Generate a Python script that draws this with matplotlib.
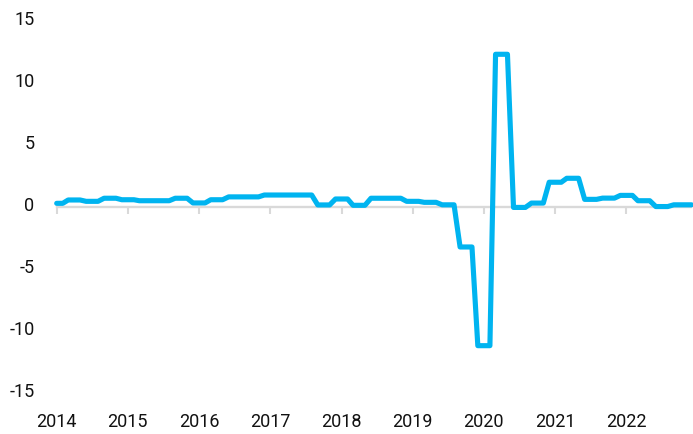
import matplotlib
matplotlib.use("Agg")
import matplotlib.pyplot as plt
import matplotlib.dates as mdates
from matplotlib.transforms import ScaledTranslation
import pandas as pd

plt.rcParams['font.family'] = ['Liberation Sans Narrow', 'DejaVu Sans Condensed', 'Roboto', 'DejaVu Sans']

# monthly values, one row per year (2014 .. 2022)
v2014 = [0.28, 0.28, 0.55, 0.55, 0.55, 0.44, 0.44, 0.44, 0.69, 0.69, 0.69, 0.57]
v2015 = [0.57, 0.57, 0.49, 0.49, 0.49, 0.49, 0.49, 0.49, 0.69, 0.69, 0.69, 0.31]
v2016 = [0.31, 0.31, 0.57, 0.57, 0.57, 0.80, 0.80, 0.80, 0.80, 0.80, 0.80, 0.95]
v2017 = [0.95, 0.95, 0.95, 0.95, 0.95, 0.95, 0.95, 0.95, 0.15, 0.15, 0.15, 0.63]
v2018 = [0.63, 0.63, 0.12, 0.12, 0.12, 0.69, 0.69, 0.69, 0.69, 0.69, 0.69, 0.44]
v2019 = [0.44, 0.44, 0.36, 0.36, 0.36, 0.16, 0.16, 0.16, -3.24, -3.24, -3.24, -11.2]
v2020 = [-11.2, -11.2, 12.3, 12.3, 12.3, -0.05, -0.05, -0.05, 0.30, 0.30, 0.30, 1.98]
v2021 = [1.98, 1.98, 2.30, 2.30, 2.30, 0.60, 0.60, 0.60, 0.70, 0.70, 0.70, 0.92]
v2022 = [0.92, 0.92, 0.49, 0.49, 0.49, 0.02, 0.02, 0.02, 0.16, 0.16, 0.16, 0.16]

values = v2014 + v2015 + v2016 + v2017 + v2018 + v2019 + v2020 + v2021 + v2022
dates = pd.date_range('2014-01-01', periods=len(values), freq='MS')
years = list(range(2014, 2023))
yticks = [15, 10, 5, 0, -5, -10, -15]

W, H = 693, 435
fig = plt.figure(figsize=(W / 100, H / 100), dpi=100)
ax = fig.add_axes([56.7 / W, 1 - 393.8 / H, (691.5 - 56.7) / W, (393.8 - 21.8) / H])

ax.plot(dates, values, color='#00B4F0', lw=3.7, solid_joinstyle='round',
        solid_capstyle='round', clip_on=False, zorder=3)

ax.set_xlim(dates[0], dates[-1])
ax.set_ylim(-15, 15)
ax.set_yticks(yticks)
ax.set_yticklabels([str(t) for t in yticks])

year_ticks = pd.to_datetime([f'{y}-01-01' for y in years])
ax.set_xticks(year_ticks)
ax.xaxis.set_major_formatter(mdates.DateFormatter('%Y'))

for s in ax.spines.values():
    s.set_visible(False)
ax.tick_params(axis='both', length=0, labelsize=13, colors='#111111')
ax.tick_params(axis='x', pad=14)
ax.tick_params(axis='y', pad=16)

# nudge y labels up a little, like the original
shift = ScaledTranslation(0, 4 / 100, fig.dpi_scale_trans)
for lab in ax.get_yticklabels():
    lab.set_transform(lab.get_transform() + shift)

# zero line with year ticks
sec = ax.secondary_xaxis(0.5)
sec.set_alignment('bottom')
sec.set_xticks(year_ticks)
sec.tick_params(length=5, width=1.5, color='#d9d9d9', labelbottom=False, labeltop=False)
sec.spines['bottom'].set_color('#d9d9d9')
sec.spines['bottom'].set_linewidth(1.7)
sec.spines['bottom'].set_zorder(1)

fig.savefig('out.png', dpi=100)
